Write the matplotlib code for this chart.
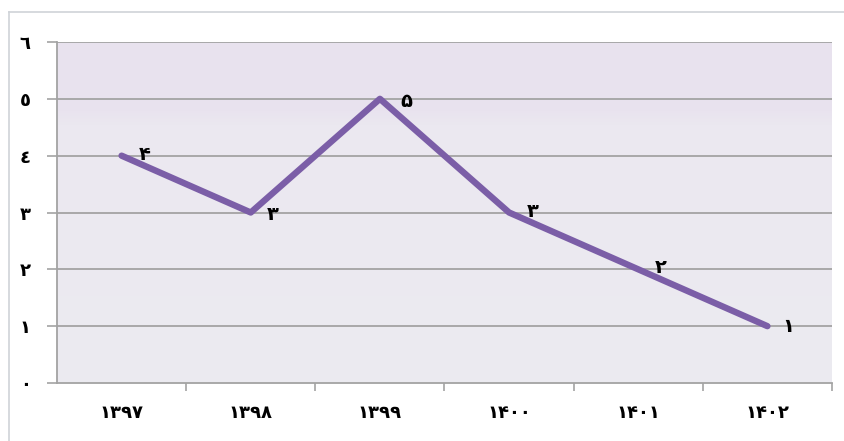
import numpy as np
import matplotlib
matplotlib.use("Agg")
import matplotlib.pyplot as plt
from matplotlib.lines import Line2D
from matplotlib.colors import LinearSegmentedColormap

# داده‌ها
years = ["۱۳۹۷", "۱۳۹۸", "۱۳۹۹", "۱۴۰۰", "۱۴۰۱", "۱۴۰۲"]
values = [4, 3, 5, 3, 2, 1]
value_labels = ["۴", "۳", "۵", "۳", "۲", "۱"]
y_ticks = [0, 1, 2, 3, 4, 5, 6]
y_tick_labels = ["٠", "١", "٢", "٣", "٤", "٥", "٦"]

plt.rcParams['font.family'] = ['DejaVu Sans']

fig = plt.figure(figsize=(8.45, 4.41), dpi=100)
fig.patch.set_facecolor("white")

# outer frame
frame_color = "#cfd3d8"
fig.add_artist(Line2D([9/845, 9/845], [0, 1 - 12/441], transform=fig.transFigure,
                      color=frame_color, lw=1.2))
fig.add_artist(Line2D([9/845, 1], [1 - 12/441, 1 - 12/441], transform=fig.transFigure,
                      color=frame_color, lw=1.2))

ax = fig.add_axes([57/845, 1 - 383/441, (832 - 57)/845, (383 - 42)/441])

x = np.arange(len(years))
ax.set_xlim(-0.5, len(years) - 0.5)
ax.set_ylim(0, 6)

# background: light lavender, a bit deeper near the top
grad = np.linspace(0, 1, 256).reshape(-1, 1)
cmap = LinearSegmentedColormap.from_list(
    "bg", [(0, "#ecebf1"), (0.76, "#ebe8f0"), (0.8, "#e9e3ef"), (1, "#e8e2ee")])
ax.imshow(grad, aspect="auto", cmap=cmap, origin="lower",
          extent=(-0.5, len(years) - 0.5, 0, 6), zorder=0)

for yv in y_ticks[1:]:
    ax.axhline(yv, color="#a3a3a3", lw=1.3, zorder=1)

ax.plot(x, values, color="#7b5ea7", lw=4.6, solid_capstyle="round",
        solid_joinstyle="round", zorder=3)

offsets = [(17, 1), (16, -1.5), (19, -2), (17, 1), (16, 1.5), (15, 0)]
for xi, yi, lab, off in zip(x, values, value_labels, offsets):
    ax.annotate(lab, (xi, yi), xytext=off, textcoords="offset points",
                ha="center", va="center", fontsize=14, fontweight="bold",
                color="black", zorder=4)

ax.set_yticks(y_ticks)
ax.set_yticklabels(y_tick_labels, fontsize=13, fontweight="bold")
ax.set_xticks(x)
ax.set_xticklabels(years, fontsize=13, fontweight="bold")
ax.set_xticks(np.arange(0.5, len(years), 1), minor=True)

ax.tick_params(axis="y", length=7, color="#a3a3a3", width=1.2, pad=12)
ax.tick_params(axis="x", which="major", length=0, pad=15)
ax.tick_params(axis="x", which="minor", length=6, color="#a3a3a3", width=1.2)

for s in ["top", "right"]:
    ax.spines[s].set_visible(False)
ax.spines["left"].set_color("#a3a3a3")
ax.spines["left"].set_linewidth(1.3)
ax.spines["bottom"].set_color("#a3a3a3")
ax.spines["bottom"].set_linewidth(1.3)

fig.savefig("out.png", dpi=100)
